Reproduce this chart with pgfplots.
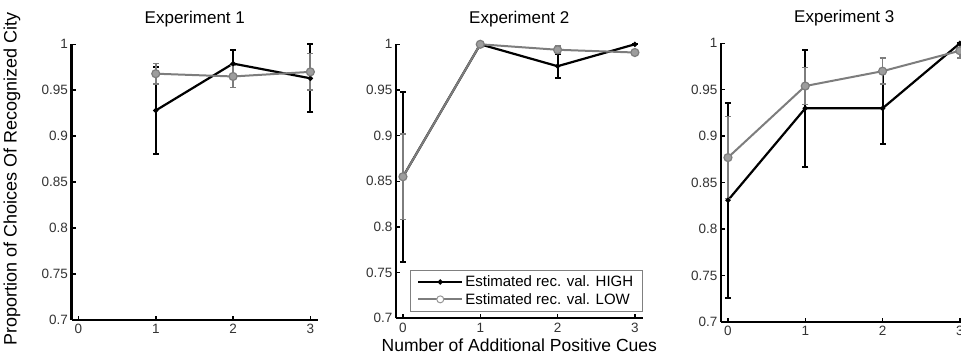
\documentclass[border=0pt]{standalone}
\usepackage{pgfplots}
\pgfplotsset{compat=1.18}
\usepackage{fontspec}
\setmainfont{Liberation Sans}
\definecolor{lowgray}{RGB}{125,125,125}
\pgfplotsset{
  exp/.style={
    scale only axis, width=246.6pt,
    xmin=-0.09, xmax=3.1, ymin=0.7, ymax=1,
    axis lines=left, axis line style={-, line width=2.2pt, black},
    xtick={0,1,2,3},
    ytick={0.7,0.75,0.8,0.85,0.9,0.95,1},
    yticklabels={0.7,0.75,0.8,0.85,0.9,0.95,1},
    /pgf/number format/assume math mode=true,
    tick align=inside, major tick length=4pt,
    tick style={line width=1.5pt, black},
    tick label style={font=\fontsize{13.5}{15}\selectfont, text=black!80},
    xticklabel style={yshift=-1pt},
    title style={font=\fontsize{17}{20}\selectfont, at={(0.5,1)}, anchor=base, yshift=15pt},
    label style={font=\fontsize{17.5}{20}\selectfont},
    clip=false,
  },
  high/.style={black, line width=2.2pt, mark=*, mark size=1.3pt,
    error bars/y dir=both, error bars/y explicit,
    error bars/error bar style={line width=2pt, black},
    error bars/error mark options={rotate=90, mark size=3pt, line width=1.8pt, black}},
  low/.style={lowgray, line width=2pt, mark=*, mark size=4pt,
    mark options={fill=lowgray!75, draw=lowgray, line width=1.2pt},
    error bars/y dir=both, error bars/y explicit,
    error bars/error bar style={line width=1.8pt, lowgray},
    error bars/error mark options={rotate=90, mark size=3pt, line width=1.5pt, lowgray}},
}
\begin{document}
\begin{tikzpicture}
% Experiment 1
\begin{axis}[exp, at={(71.5pt,38pt)}, anchor=south west, height=275.7pt,
  title={Experiment 1},
  ylabel={Proportion of Choices Of Recognized City},
  ylabel style={at={(axis description cs:-0.241,0.51)}, anchor=center, font=\fontsize{18}{20}\selectfont}]
\addplot[high] coordinates {(1,0.928) +- (0,0.047) (2,0.979) +- (0,0.015) (3,0.963) +- (0,0.037)};
\addplot[low] coordinates {(1,0.968) +- (0,0.011) (2,0.965) +- (0,0.012) (3,0.970) +- (0,0.020)};
\end{axis}
% Experiment 2
\begin{axis}[exp, at={(396pt,39.7pt)}, anchor=south west, height=274pt,
  title={Experiment 2},
  xlabel={Number of Additional Positive Cues},
  xlabel style={at={(axis description cs:0.5,-0.097)}, anchor=center},
  legend style={at={(1,0.025)}, anchor=south east, draw=gray, line width=0.8pt,
    fill=white, inner xsep=7pt, inner ysep=3.5pt, row sep=1pt,
    nodes={font=\fontsize{15}{17}\selectfont}},
  legend cell align=left,
  legend image code/.code={\draw[mark repeat=2,mark phase=2] plot coordinates {(0pt,0pt) (22pt,0pt) (44pt,0pt)};}]
\addplot[high] coordinates {(0,0.855) +- (0,0.093) (1,1.0) +- (0,0) (2,0.976) +- (0,0.013) (3,1.0) +- (0,0)};
\addlegendentry{Estimated rec. val. HIGH\hspace{10pt}}
\addplot[low, legend image code/.code={\draw[lowgray, line width=2pt] (0pt,0pt) -- (44pt,0pt);
    \draw[lowgray!80, fill=white, line width=1pt] (22pt,0pt) circle (3.5pt);}]
  coordinates {(0,0.855) +- (0,0.047) (1,1.0) +- (0,0) (2,0.994) +- (0,0.004) (3,0.991) +- (0,0.003)};
\addlegendentry{Estimated rec. val. LOW}
\end{axis}
% Experiment 3
\begin{axis}[exp, at={(721pt,36pt)}, anchor=south west, height=278.7pt,
  title={Experiment 3}]
\addplot[high] coordinates {(0,0.831) +- (0,0.105) (1,0.930) +- (0,0.063) (2,0.930) +- (0,0.038) (3,1.0) +- (0,0)};
\addplot[low] coordinates {(0,0.877) +- (0,0.044) (1,0.954) +- (0,0.020) (2,0.970) +- (0,0.014) (3,0.992) +- (0,0.008)};
\end{axis}
\pgfresetboundingbox
\path[use as bounding box] (0,0) rectangle (961pt,358pt);
\end{tikzpicture}
\end{document}
